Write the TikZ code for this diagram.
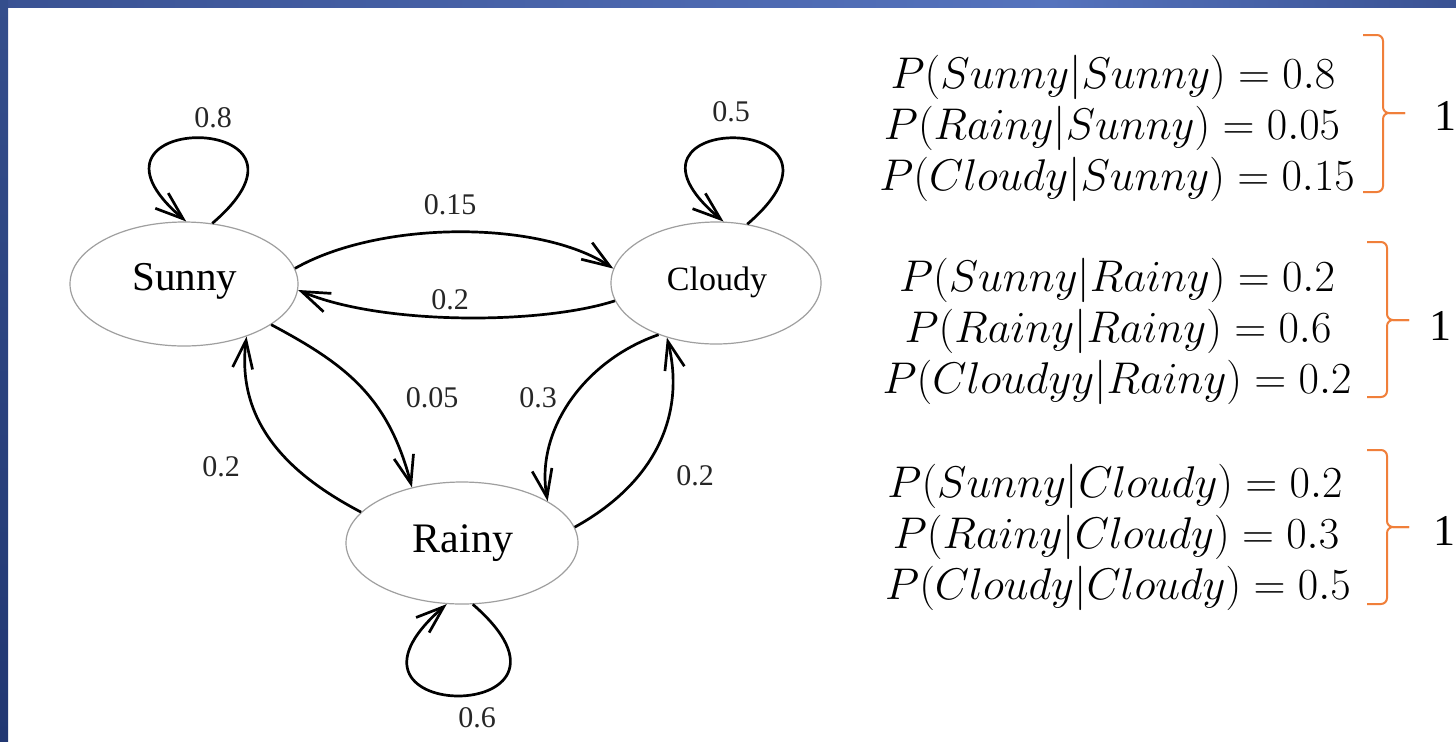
\documentclass[tikz,border=0pt]{standalone}
\usepackage{fontspec}
\setmainfont{Liberation Serif}
\usetikzlibrary{shapes.geometric,arrows.meta}

\definecolor{frameA}{HTML}{3A5293}
\definecolor{frameB}{HTML}{5573BD}
\definecolor{frameL}{HTML}{344E8C}
\definecolor{frameD}{HTML}{213772}
\definecolor{braceor}{HTML}{F07F3A}

\tikzset{
  stnode/.style={ellipse, draw=gray!75, line width=0.6pt, inner sep=0pt},
  trans/.style={line width=1.35pt, -{Straight Barb[length=14pt,width=10pt]}},
  plab/.style={font=\fontsize{15}{15}\selectfont, text=black!85},
  eqn/.style={anchor=base, inner sep=0pt, scale=1.07, font=\fontsize{20.74}{25}\selectfont},
  brc/.style={draw=braceor, line width=1pt, rounded corners=3pt},
  one/.style={inner sep=0pt, font=\fontsize{22}{22}\selectfont}
}

\begin{document}
\begin{tikzpicture}[x=0.5pt,y=-0.5pt]
  % canvas and slide frame
  \useasboundingbox (0,0) rectangle (1456,741);
  \fill[white] (0,0) rectangle (1456,741);
  \shade[left color=frameA, right color=frameB] (0,0) rectangle (1050,7);
  \shade[left color=frameB, right color=frameA] (1050,0) rectangle (1456,7);
  \shade[top color=frameL, bottom color=frameD] (0,0) rectangle (8,741);

  % states
  \node[stnode, minimum width=114pt, minimum height=62pt] (S) at (184,284) {};
  \node[stnode, minimum width=105pt, minimum height=61pt] (C) at (716,283) {};
  \node[stnode, minimum width=116pt, minimum height=61pt] (R) at (462,543) {};
  \node[font=\fontsize{20.5}{20.5}\selectfont] (St) at (185,281) {Sunny};
  \node[font=\fontsize{17}{17}\selectfont] (Ct) at (717,282) {Cloudy};
  \node[font=\fontsize{21}{21}\selectfont] (Rt) at (463,543) {Rainy};

  % transitions between states
  \draw[trans] (S.8) .. controls (380,220) and (540,220) .. (C.172);
  \draw[trans] (C.190) .. controls (540,325) and (380,325) .. (S.-3);
  \draw[trans] (S.-25) .. controls (345,364) and (388,396) .. (R.132);
  \draw[trans] (R.163) .. controls (300,480) and (235,430) .. (S.-40);
  \draw[trans] (C.222) .. controls (585,360) and (535,430) .. (R.26);
  \draw[trans] (R.8) .. controls (660,480) and (685,410) .. (C.228);

  % self transitions
  \draw[trans] (S.65) .. controls (345,110) and (55,110) .. (S.88);
  \draw[trans] (C.62) .. controls (880,110) and (590,110) .. (C.83);
  \draw[trans] (R.-80) .. controls (613,726) and (306,726) .. (R.-104);

  % transition probabilities
  \node[plab] (p1) at (213,118) {0.8};
  \node[plab] (p2) at (731,112) {0.5};
  \node[plab] (p3) at (450,205) {0.15};
  \node[plab] (p4) at (450,300) {0.2};
  \node[plab] (p5) at (432,398) {0.05};
  \node[plab] (p6) at (538,398) {0.3};
  \node[plab] (p7) at (221,467) {0.2};
  \node[plab] (p8) at (695,476) {0.2};
  \node[plab] (p9) at (477,718) {0.6};

  % conditional probabilities, grouped by the previous state
  \node[eqn] (e11) at (1113,88)  {$P(Sunny|Sunny) = 0.8$};
  \node[eqn] (e12) at (1112,139) {$P(Rainy|Sunny) = 0.05$};
  \node[eqn] (e13) at (1117,190) {$P(Cloudy|Sunny) = 0.15$};

  \node[eqn] (e21) at (1117,291) {$P(Sunny|Rainy) = 0.2$};
  \node[eqn] (e22) at (1118,342) {$P(Rainy|Rainy) = 0.6$};
  \node[eqn] (e23) at (1117,393) {$P(Cloudyy|Rainy) = 0.2$};

  \node[eqn] (e31) at (1115,497) {$P(Sunny|Cloudy) = 0.2$};
  \node[eqn] (e32) at (1116,548) {$P(Rainy|Cloudy) = 0.3$};
  \node[eqn] (e33) at (1118,599) {$P(Cloudy|Cloudy) = 0.5$};

  % braces and their sums
  \draw[brc] (1363,35) -| (1383,113) -- (1405,113);
  \draw[brc] (1405,113) -- (1383,113) |- (1363,192);
  \node[one] (s1) at (1445,116) {1};

  \draw[brc] (1367,242) -| (1387,320) -- (1409,320);
  \draw[brc] (1409,320) -- (1387,320) |- (1367,397);
  \node[one] (s2) at (1440,326) {1};

  \draw[brc] (1367,450) -| (1387,527) -- (1409,527);
  \draw[brc] (1409,527) -- (1387,527) |- (1367,604);
  \node[one] (s3) at (1444,531) {1};
\end{tikzpicture}
\end{document}
